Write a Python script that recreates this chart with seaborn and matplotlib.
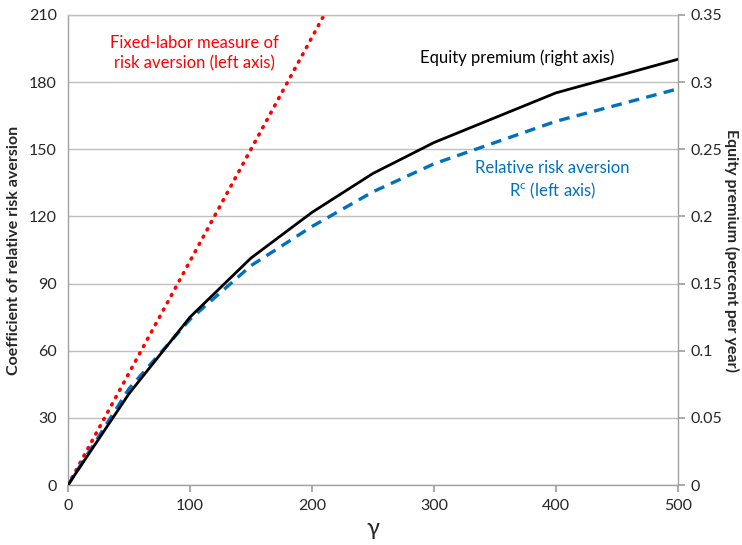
import numpy as np
import pandas as pd
import matplotlib
matplotlib.use("Agg")
import matplotlib.pyplot as plt
import matplotlib.ticker as mticker
import seaborn as sns

# data
gamma         = [0, 50, 100, 150, 200, 250, 300, 400, 500]
fixed_labor   = [0, 50, 100, 150, 200, 250, 300, 400, 500]      # left axis
rel_risk_aver = [0, 43, 74, 98, 115.5, 131, 143.5, 162.5, 177]  # left axis
equity_prem   = [0, 0.068, 0.125, 0.169, 0.203, 0.232, 0.255, 0.292, 0.317]  # right axis

left_ticks  = [0, 30, 60, 90, 120, 150, 180, 210]
right_ticks = [0, 0.05, 0.1, 0.15, 0.2, 0.25, 0.3, 0.35]
x_ticks     = [0, 100, 200, 300, 400, 500]

sns.set_theme(style="white")
plt.rcParams["font.family"] = ["Lato", "DejaVu Sans"]
plt.rcParams["mathtext.fontset"] = "custom"
plt.rcParams["mathtext.rm"] = "Lato"

df = pd.DataFrame({"gamma": gamma, "fixed": fixed_labor,
                   "rra": rel_risk_aver, "ep": equity_prem})

GRID = "#BFBFBF"
RED, BLUE = "#FF0000", "#0070C0"

fig = plt.figure(figsize=(7.42, 5.45), dpi=100)
ax = fig.add_axes([0.0916, 0.110, 0.822, 0.8625])

sns.lineplot(data=df, x="gamma", y="fixed", color=RED, linewidth=2.6,
             linestyle=(0, (0.3, 2.0)), dash_capstyle="round", ax=ax)
sns.lineplot(data=df, x="gamma", y="rra", color=BLUE, linewidth=2.4,
             linestyle=(0, (3.2, 2.2)), ax=ax)

ax.set_xlim(0, 500)
ax.set_ylim(0, 210)
ax.set_xticks(x_ticks)
ax.set_yticks(left_ticks)
ax.yaxis.grid(True, color=GRID, linewidth=1.0)
ax.set_axisbelow(True)
for side in ["left", "bottom", "right", "top"]:
    ax.spines[side].set_color("#A0A0A0")
    ax.spines[side].set_linewidth(1.0)
ax.spines["top"].set_color(GRID)
ax.tick_params(axis="x", direction="out", length=5, color="#A0A0A0",
               labelsize=11.5, pad=5, bottom=True)
ax.tick_params(axis="y", length=0, labelsize=11.5, pad=8)
ax.set_xlabel("γ", fontsize=17, labelpad=4)
ax.set_ylabel("Coefficient of relative risk aversion", fontsize=11.5,
              fontweight="bold", labelpad=6)

ax2 = ax.twinx()
sns.lineplot(data=df, x="gamma", y="ep", color="black", linewidth=2.0, ax=ax2)
ax2.set_ylim(0, 0.35)
ax2.set_yticks(right_ticks)
ax2.yaxis.set_major_formatter(mticker.FuncFormatter(lambda v, p: f"{v:g}"))
ax2.tick_params(axis="y", direction="out", length=5, color="#A0A0A0",
                labelsize=11.5, pad=4, right=True)
for side in ["left", "bottom", "right", "top"]:
    ax2.spines[side].set_visible(False)
ax2.set_ylabel("Equity premium (percent per year)", fontsize=11.5,
               fontweight="bold", rotation=270, labelpad=12)

ax.text(104, 193, "Fixed-labor measure of\nrisk aversion (left axis)",
        color=RED, fontsize=12, ha="center", va="center", linespacing=1.3)
ax.text(368, 191, "Equity premium (right axis)", color="black",
        fontsize=12, ha="center", va="center")
ax.text(397, 136, "Relative risk aversion\nR$^{\\mathrm{c}}$ (left axis)",
        color=BLUE, fontsize=12, ha="center", va="center", linespacing=1.3)

fig.savefig("out.png", dpi=100)
